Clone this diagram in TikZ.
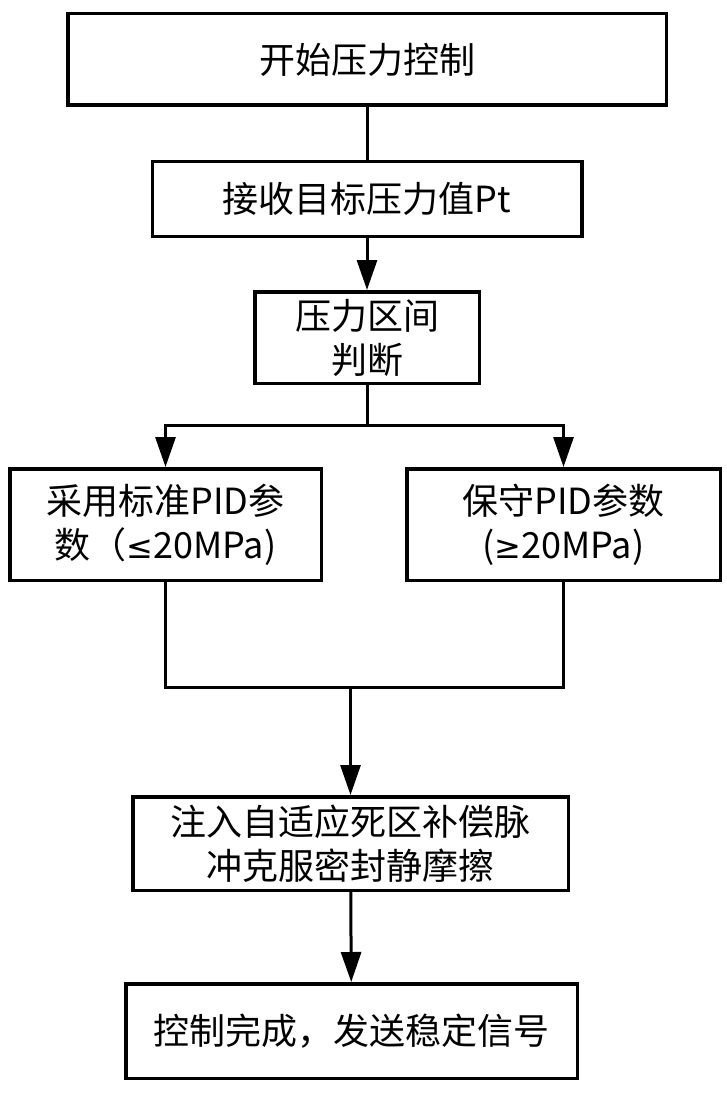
\documentclass[tikz,border=0pt]{standalone}
\usepackage{fontspec}
\newfontfamily\cjk{Noto Sans CJK SC}
\newfontfamily\symb{DejaVu Sans}
\usetikzlibrary{positioning}
\usetikzlibrary{arrows.meta}

\begin{document}
\begin{tikzpicture}[x=1pt, y=1pt,
  stepbox/.style={draw, line width=3.5pt, align=center, inner sep=0pt,
    font=\cjk\fontsize{36}{44}\selectfont},
  link/.style={line width=3pt},
  arr/.style={link, -{Triangle[length=30pt, width=20pt]}}]
\useasboundingbox (0,0) rectangle (726,-1094);
\node[stepbox, minimum width=598.5pt, minimum height=91.5pt] (start) at (367,-59.5) {开始压力控制};
\node[stepbox, minimum width=429.5pt, minimum height=74.5pt, below=53pt of start] (recv) {接收目标压力值Pt};
\node[stepbox, minimum width=224.5pt, minimum height=91.5pt, below=52pt of recv] (judge) {压力区间\\判断};
\node[stepbox, minimum width=311.5pt, minimum height=111.5pt] (low) at (165.5,-524.5) {采用标准PID参\\数（{\symb\fontsize{32}{44}\selectfont ≤}20MPa)};
\node[stepbox, minimum width=313.5pt, minimum height=111.5pt] (high) at (563.5,-524.5) {保守PID参数\\({\symb\fontsize{32}{44}\selectfont ≥}20MPa)};
\node[stepbox, minimum width=435.5pt, minimum height=93.5pt] (comp) at (350.5,-843.5) {注入自适应死区补偿脉\\冲克服密封静摩擦};
\node[stepbox, minimum width=451.5pt, minimum height=94.5pt, below=90pt of comp, xshift=1pt] (done) {控制完成，发送稳定信号};
\coordinate (join) at (350.5,-687);
% main column
\draw[link] (start) -- (recv);
\draw[arr] (recv) -- (judge);
% branch into the two parameter sets
\draw[link] (judge.south) -- ++(0,-40) coordinate (split);
\draw[arr] (split) -| (low);
\draw[arr] (split) -| (high);
% merge
\draw[link] (low) |- (join) -| (high);
\draw[arr] (join) -- (comp);
\draw[arr] (comp) -- (done);
\end{tikzpicture}
\end{document}
